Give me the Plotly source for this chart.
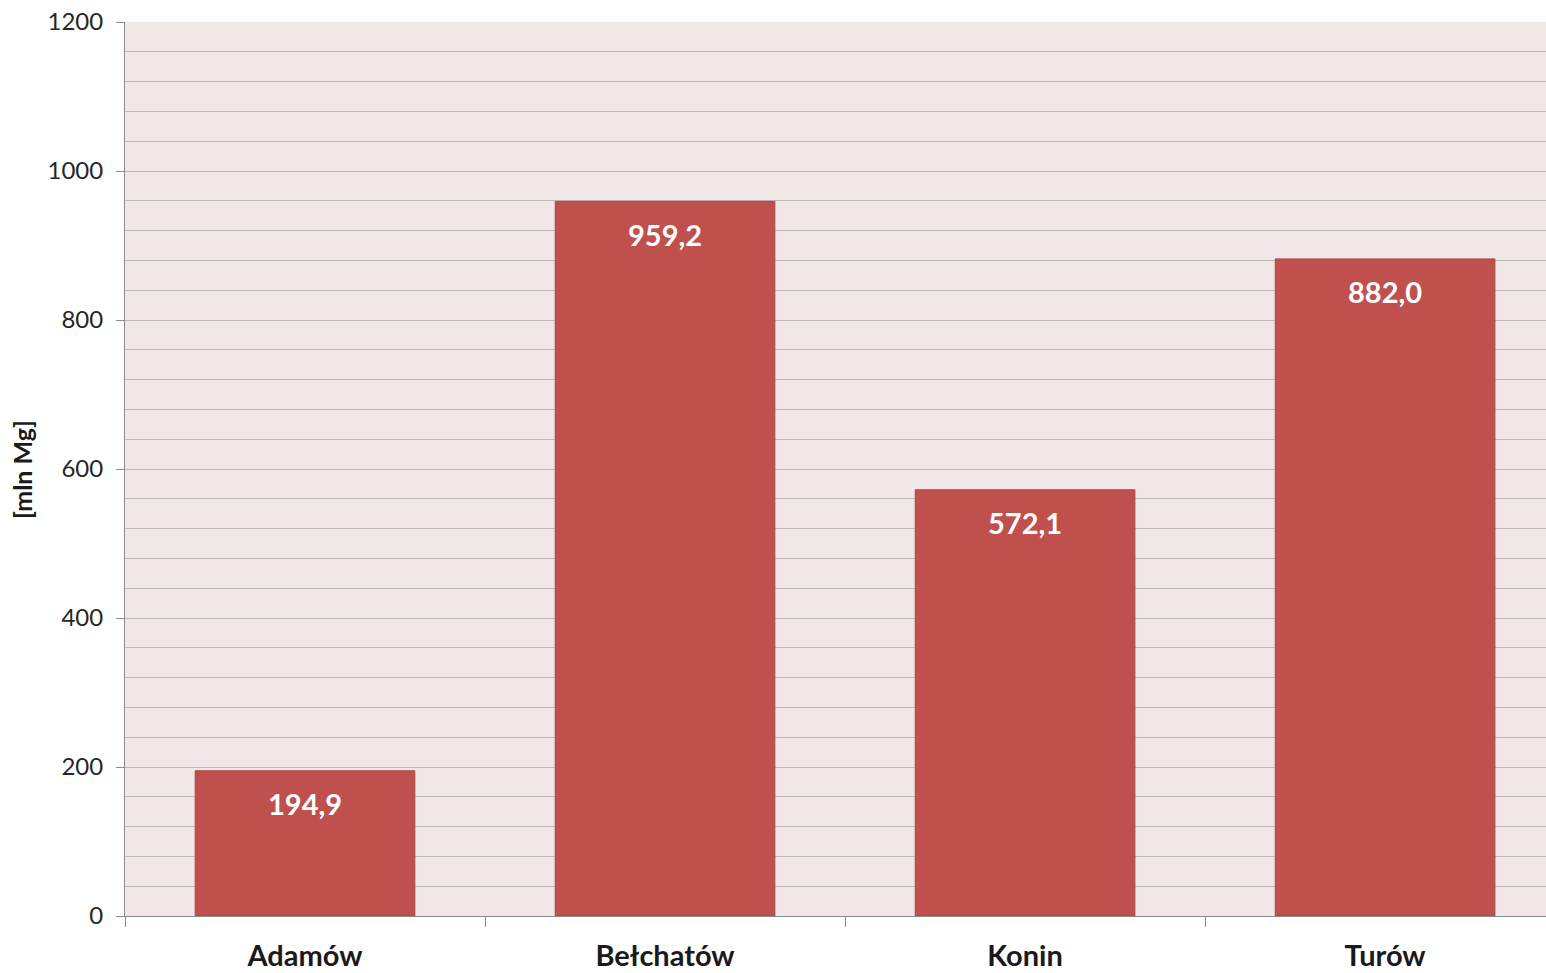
import plotly.graph_objects as go

# Lignite resources by basin [mln Mg]
categories = ["Adamów", "Bełchatów", "Konin", "Turów"]
values = [194.9, 959.2, 572.1, 882.0]
y_ticks = [0, 200, 400, 600, 800, 1000, 1200]
y_title = "[mln Mg]"

FONT = "Lato, 'Open Sans', sans-serif"
GRID = "#BFB8B8"


def fmt(v):
    return f"{v:.1f}".replace(".", ",")


fig = go.Figure(
    go.Bar(
        x=categories,
        y=values,
        width=0.61,
        marker=dict(color="#C0504D", line=dict(color="#A94542", width=1)),
        hoverinfo="x+y",
    )
)

# value labels placed just below the top of each bar
for cat, v in zip(categories, values):
    fig.add_annotation(
        x=cat,
        y=v,
        text=fmt(v),
        showarrow=False,
        yanchor="middle",
        yshift=-33,
        font=dict(family=FONT, size=29, color="white", weight="bold"),
    )

# rotated y-axis title, positioned in the left margin
fig.add_annotation(
    xref="paper",
    yref="paper",
    x=-0.0725,
    y=0.5,
    xanchor="center",
    yanchor="middle",
    text=y_title,
    textangle=-90,
    showarrow=False,
    font=dict(family=FONT, size=25, color="#1A1A1A", weight="bold"),
)

fig.update_layout(
    width=1546,
    height=973,
    margin=dict(l=125, r=0, t=22, b=57),
    paper_bgcolor="white",
    plot_bgcolor="#F2E7E7",
    showlegend=False,
    font=dict(family=FONT, color="#262626"),
)

fig.update_xaxes(
    range=[-0.5, 3.447],
    showline=True,
    linecolor="#8C8C8C",
    linewidth=1,
    ticks="outside",
    tickson="boundaries",
    ticklen=10,
    tickcolor="#8C8C8C",
    tickfont=dict(family=FONT, size=29, color="#1A1A1A", weight="bold"),
    ticklabelstandoff=14,
    showgrid=False,
)

fig.update_yaxes(
    range=[0, 1200],
    tickvals=y_ticks,
    showline=True,
    linecolor="#8C8C8C",
    linewidth=1,
    ticks="outside",
    ticklen=8,
    tickcolor="#8C8C8C",
    tickfont=dict(family=FONT, size=24, color="#262626"),
    ticklabelstandoff=8,
    showgrid=True,
    gridcolor=GRID,
    gridwidth=1,
    minor=dict(dtick=40, showgrid=True, gridcolor=GRID, gridwidth=1),
    zeroline=False,
)

fig.write_html("out.html")
